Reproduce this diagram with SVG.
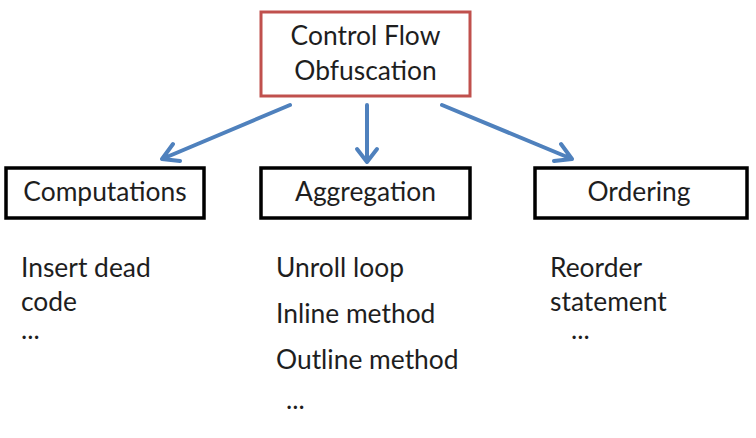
<svg xmlns="http://www.w3.org/2000/svg" width="756" height="438" viewBox="0 0 756 438">
<style>
text{font-family:Lato,"Open Sans","Liberation Sans",sans-serif;font-size:26.4px;fill:#1e1e1e}
.box{fill:#fff;stroke:#000;stroke-width:3.5}
.root{fill:#fff;stroke:#c0504d;stroke-width:3}
.c{stroke:#4f81bd;stroke-width:4;fill:none;stroke-linecap:round;stroke-linejoin:round}
</style>
<rect width="756" height="438" fill="#fff"/>
<g id="root">
<rect class="root" x="261" y="12" width="209" height="84"/>
<text x="365.5" y="45" text-anchor="middle">Control Flow</text>
<text x="365.5" y="80" text-anchor="middle">Obfuscation</text>
</g>
<g id="connectors">
<path class="c" d="M290 105 L162 159 M173 144 L162 159 L180 161"/>
<path class="c" d="M367 105 L367 162 M357 149 L367 162 L377 149"/>
<path class="c" d="M442 105 L572 159 M554 161 L572 159 L561 144"/>
</g>
<g id="computations">
<rect class="box" x="6" y="168" width="198" height="50"/>
<text x="105" y="201" text-anchor="middle">Computations</text>
</g>
<g id="aggregation">
<rect class="box" x="261" y="168" width="209" height="50"/>
<text x="365.5" y="201" text-anchor="middle">Aggregation</text>
</g>
<g id="ordering">
<rect class="box" x="535" y="168" width="212" height="50"/>
<text x="639" y="201" text-anchor="middle">Ordering</text>
</g>
<g id="computations-items">
<text x="21" y="277">Insert dead</text>
<text x="21" y="311">code</text>
<text x="21" y="339">...</text>
</g>
<g id="aggregation-items">
<text x="276" y="277">Unroll loop</text>
<text x="276" y="323">Inline method</text>
<text x="276" y="369">Outline method</text>
<text x="286" y="409">...</text>
</g>
<g id="ordering-items">
<text x="550" y="277">Reorder</text>
<text x="550" y="311">statement</text>
<text x="571" y="339">...</text>
</g>
</svg>
